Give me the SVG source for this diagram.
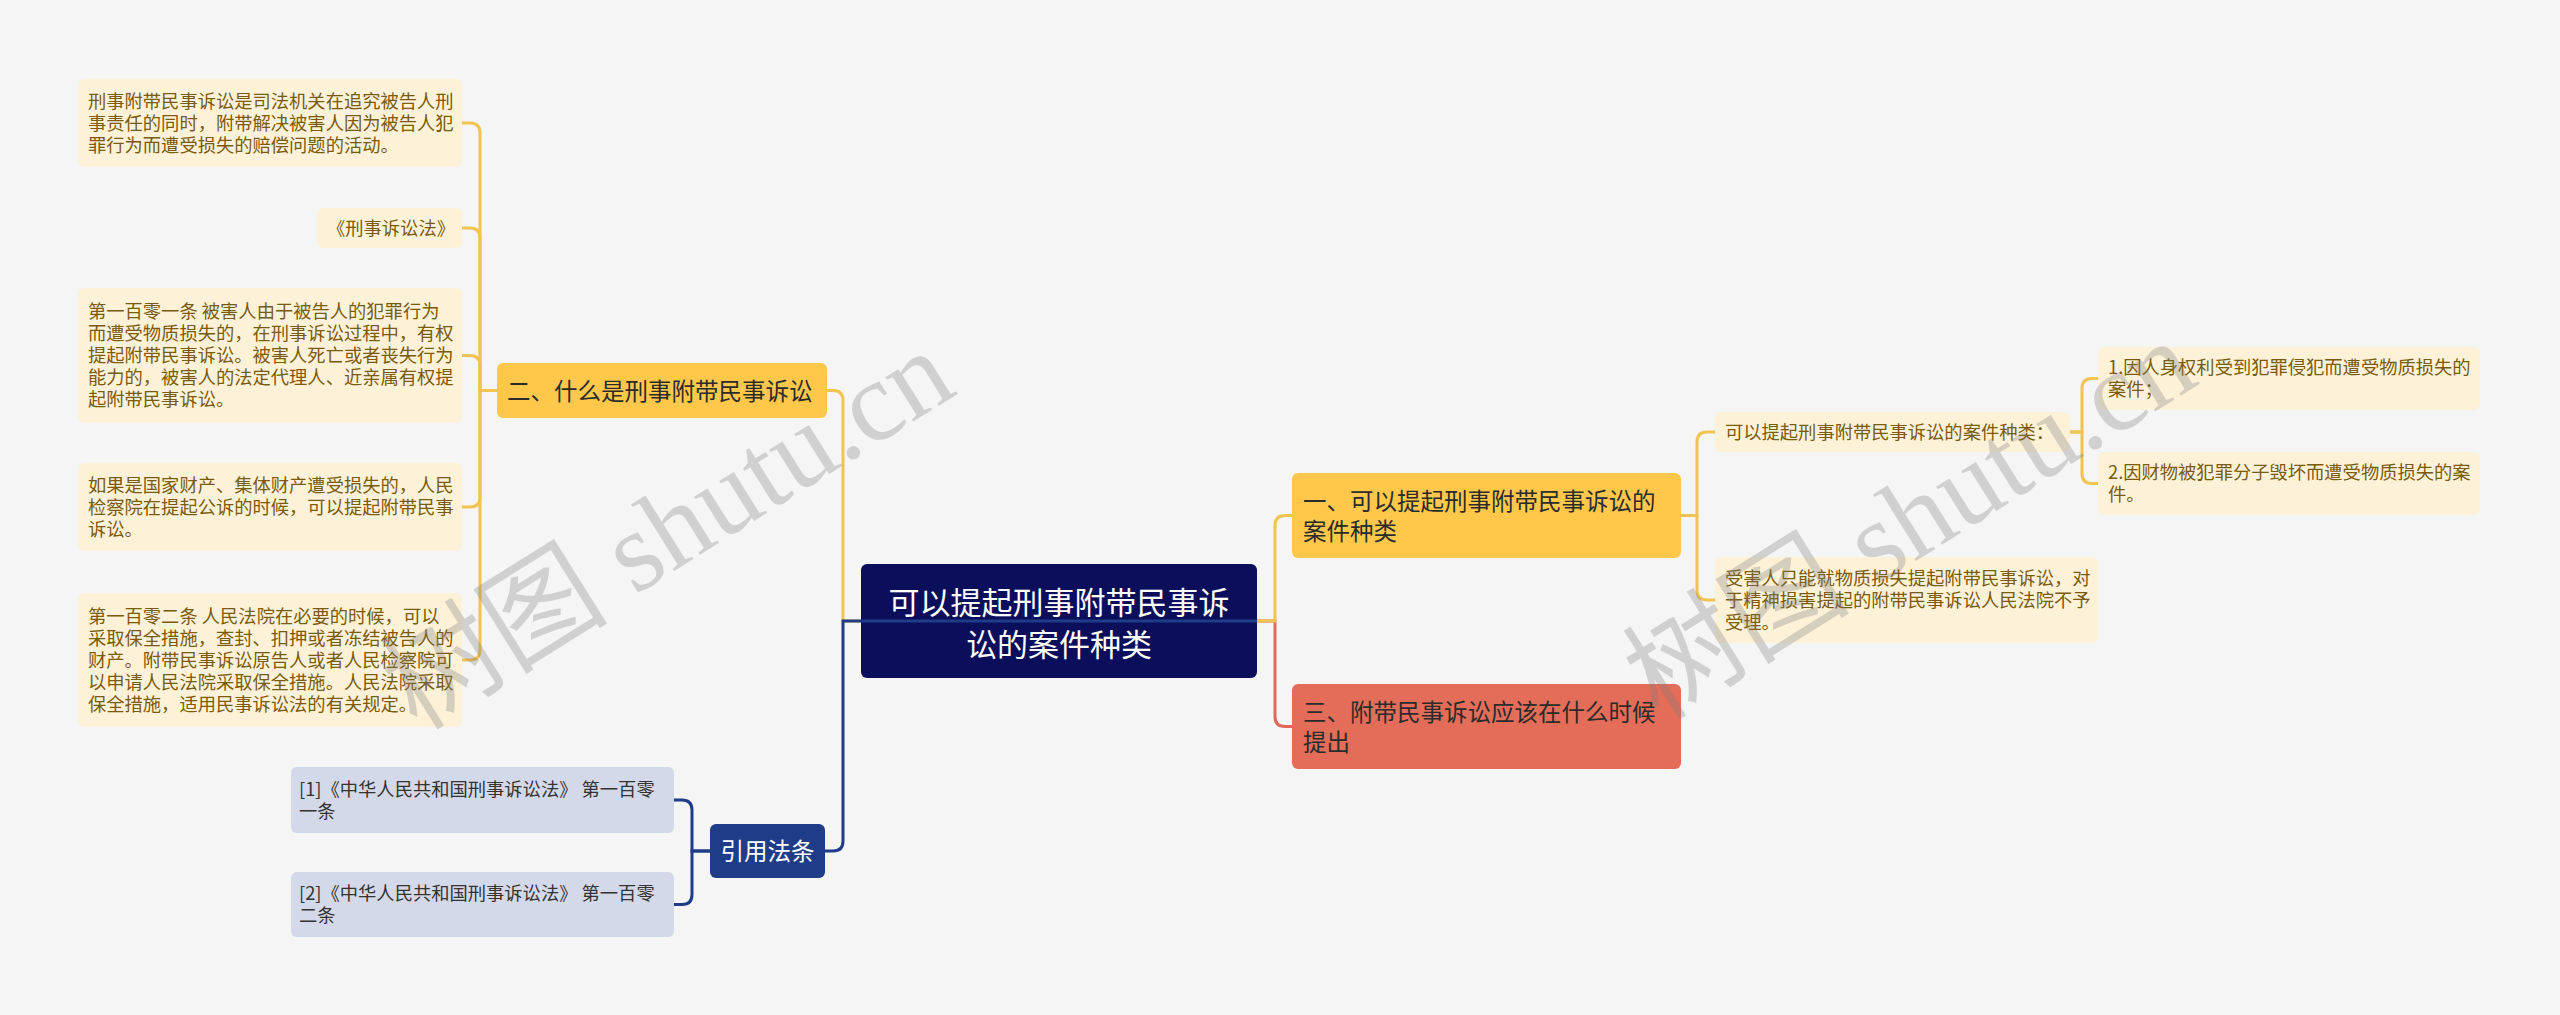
<svg xmlns="http://www.w3.org/2000/svg" width="2560" height="1015" viewBox="0 0 2560 1015">
<style>
.bg{fill:#f5f5f5}
.leaf rect{fill:#fdf2d8}
.leaf text{font-family:"Noto Sans CJK SC","Liberation Sans",sans-serif;font-size:18.3px;fill:#7a5a0c}
.ref rect{fill:#d3d9e8}
.ref text{font-family:"Noto Sans CJK SC","Liberation Sans",sans-serif;font-size:18.3px;fill:#333}
.yel rect{fill:#ffc84b}
.red rect{fill:#e36d58}
.main text{font-family:"Noto Sans CJK SC","Liberation Sans",sans-serif;font-size:23.5px;fill:#2b2b2b}
.root rect{fill:#0b0f5b}
.root text{font-family:"Noto Sans CJK SC","Liberation Sans",sans-serif;font-size:31px;fill:#fff}
.cite rect{fill:#1f3c88}
.cite text{font-family:"Noto Sans CJK SC","Liberation Sans",sans-serif;font-size:23.5px;fill:#fff}
.c{fill:none;stroke-width:3}
.cy{stroke:#f1c350}
.cr{stroke:#e06a57}
.cb{stroke:#1f3c88}
.wm{font-family:"Liberation Serif","Noto Sans CJK SC",serif;font-size:114px;fill:#7a7a7a;fill-opacity:0.3}
</style>
<rect class="bg" x="0" y="0" width="2560" height="1015"/>

<g id="n-l1" class="leaf"><rect x="78" y="79" width="384" height="88" rx="6"/>
<text x="88" y="107.5">刑事附带民事诉讼是司法机关在追究被告人刑</text>
<text x="88" y="129.5">事责任的同时，附带解决被害人因为被告人犯</text>
<text x="88" y="151.5">罪行为而遭受损失的赔偿问题的活动。</text></g>

<g id="n-l2" class="leaf"><rect x="317" y="208" width="145" height="40" rx="6"/>
<text x="327" y="234.5">《刑事诉讼法》</text></g>

<g id="n-l3" class="leaf"><rect x="78" y="288" width="384" height="135" rx="6"/>
<text x="88" y="318">第一百零一条 被害人由于被告人的犯罪行为</text>
<text x="88" y="340">而遭受物质损失的，在刑事诉讼过程中，有权</text>
<text x="88" y="362">提起附带民事诉讼。被害人死亡或者丧失行为</text>
<text x="88" y="384">能力的，被害人的法定代理人、近亲属有权提</text>
<text x="88" y="406">起附带民事诉讼。</text></g>

<g id="n-l4" class="leaf"><rect x="78" y="463" width="384" height="88" rx="6"/>
<text x="88" y="491.5">如果是国家财产、集体财产遭受损失的，人民</text>
<text x="88" y="513.5">检察院在提起公诉的时候，可以提起附带民事</text>
<text x="88" y="535.5">诉讼。</text></g>

<g id="n-l5" class="leaf"><rect x="78" y="593" width="384" height="134" rx="6"/>
<text x="88" y="622.5">第一百零二条 人民法院在必要的时候，可以</text>
<text x="88" y="644.5">采取保全措施，查封、扣押或者冻结被告人的</text>
<text x="88" y="666.5">财产。附带民事诉讼原告人或者人民检察院可</text>
<text x="88" y="688.5">以申请人民法院采取保全措施。人民法院采取</text>
<text x="88" y="710.5">保全措施，适用民事诉讼法的有关规定。</text></g>

<g id="n-two" class="yel main"><rect x="497" y="363" width="330" height="55" rx="6"/>
<text x="507" y="399.5">二、什么是刑事附带民事诉讼</text></g>

<g id="n-root" class="root"><rect x="861" y="564" width="396" height="114" rx="6"/>
<text x="1059" y="614" text-anchor="middle">可以提起刑事附带民事诉</text>
<text x="1059" y="656" text-anchor="middle">讼的案件种类</text></g>

<g id="n-cite" class="cite"><rect x="710" y="824" width="115" height="54" rx="6"/>
<text x="767.5" y="860" text-anchor="middle">引用法条</text></g>

<g id="n-ref1" class="ref"><rect x="291" y="767" width="383" height="66" rx="6"/>
<text x="299" y="795.8">[1]《中华人民共和国刑事诉讼法》 第一百零</text>
<text x="299" y="817.8">一条</text></g>

<g id="n-ref2" class="ref"><rect x="291" y="872" width="383" height="65" rx="6"/>
<text x="299" y="900.3">[2]《中华人民共和国刑事诉讼法》 第一百零</text>
<text x="299" y="922.3">二条</text></g>

<g id="n-one" class="yel main"><rect x="1292" y="473" width="389" height="85" rx="6"/>
<text x="1303" y="510">一、可以提起刑事附带民事诉讼的</text>
<text x="1303" y="540">案件种类</text></g>

<g id="n-three" class="red main"><rect x="1292" y="684" width="389" height="85" rx="6"/>
<text x="1303" y="721">三、附带民事诉讼应该在什么时候</text>
<text x="1303" y="751">提出</text></g>

<g id="n-r1" class="leaf"><rect x="1715" y="412" width="355" height="40" rx="6"/>
<text x="1725" y="439">可以提起刑事附带民事诉讼的案件种类：</text></g>

<g id="n-r2" class="leaf"><rect x="1715" y="557" width="383" height="86" rx="6"/>
<text x="1725" y="584.8">受害人只能就物质损失提起附带民事诉讼，对</text>
<text x="1725" y="606.8">于精神损害提起的附带民事诉讼人民法院不予</text>
<text x="1725" y="628.8">受理。</text></g>

<g id="n-r11" class="leaf"><rect x="2098" y="347" width="382" height="63" rx="6"/>
<text x="2108" y="374.3">1.因人身权利受到犯罪侵犯而遭受物质损失的</text>
<text x="2108" y="396.3">案件；</text></g>

<g id="n-r12" class="leaf"><rect x="2098" y="452" width="382" height="63" rx="6"/>
<text x="2108" y="479.3">2.因财物被犯罪分子毁坏而遭受物质损失的案</text>
<text x="2108" y="501.3">件。</text></g>

<g id="connectors">
<path class="c cy" d="M497,390.5 H480 V133 Q480,123 470,123 H462"/>
<path class="c cy" d="M497,390.5 H480 V238 Q480,228 470,228 H462"/>
<path class="c cy" d="M497,390.5 H480 V365.5 Q480,355.5 470,355.5 H462"/>
<path class="c cy" d="M497,390.5 H480 V497 Q480,507 470,507 H462"/>
<path class="c cy" d="M497,390.5 H480 V650 Q480,660 470,660 H462"/>
<path class="c cy" d="M861,621 H843 V400.5 Q843,390.5 833,390.5 H827"/>
<path class="c cr" d="M1257,621 H1275 V716.5 Q1275,726.5 1285,726.5 H1292"/>
<path class="c cy" d="M1257,621 H1275 V525.5 Q1275,515.5 1285,515.5 H1292"/>
<path class="c cb" d="M1257,621 H843 V841 Q843,851 833,851 H825"/>
<path class="c cb" d="M710,851 H692 V810 Q692,800 682,800 H674"/>
<path class="c cb" d="M710,851 H692 V894.5 Q692,904.5 682,904.5 H674"/>
<path class="c cy" d="M1681,515.5 H1697 V442 Q1697,432 1707,432 H1715"/>
<path class="c cy" d="M1681,515.5 H1697 V590 Q1697,600 1707,600 H1715"/>
<path class="c cy" d="M2070,432 H2082 V388.5 Q2082,378.5 2092,378.5 H2098"/>
<path class="c cy" d="M2070,432 H2082 V473.5 Q2082,483.5 2092,483.5 H2098"/>
</g>

<text class="wm" transform="translate(668,530) rotate(-32)" x="0" y="38" text-anchor="middle">树图 shutu.cn</text>
<text class="wm" transform="translate(1910,520) rotate(-32)" x="0" y="38" text-anchor="middle">树图 shutu.cn</text>
</svg>
